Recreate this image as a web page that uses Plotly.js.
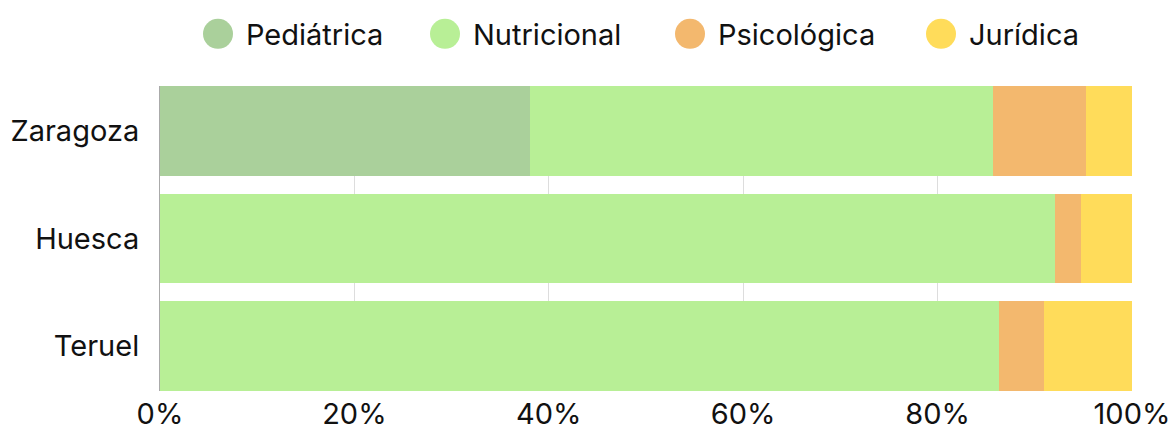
<!DOCTYPE html>
<html>
<head>
<meta charset="utf-8">
<script src="https://cdn.plot.ly/plotly-3.0.1.min.js"></script>
<style>
  html, body { margin: 0; padding: 0; background: #fff; }
  #chart { width: 1170px; height: 430px; }
</style>
</head>
<body>
<div id="chart"></div>
<script>
// Categories (top to bottom)
const provincias = ["Zaragoza", "Huesca", "Teruel"];
// Series (counts, normalised to percent by the chart)
const pediatrica  = [8, 0, 0];
const nutricional = [10, 35, 19];
const psicologica = [2, 1, 1];
const juridica    = [1, 2, 2];
const seriesNames = ["Pediátrica", "Nutricional", "Psicológica", "Jurídica"];
const seriesColors = ["#aad09b", "#b8ef96", "#f3b86e", "#ffdc5a"];
const xTicks = [0, 20, 40, 60, 80, 100];

const W = 1170, H = 430;
const FONT = "Inter, 'Noto Sans', sans-serif";
const legendIds = ["legend", "legend2", "legend3", "legend4"];
// left edge (px) of each legend entry box
const legendLeft = [202, 429, 674, 925];

const seriesValues = [pediatrica, nutricional, psicologica, juridica];
const traces = seriesValues.map((vals, i) => ({
  type: "bar",
  orientation: "h",
  name: seriesNames[i],
  legend: legendIds[i],
  y: provincias,
  x: vals,
  marker: { color: seriesColors[i], line: { width: 0 } },
  hoverinfo: "name+x"
}));

const layout = {
  width: W,
  height: H,
  margin: { l: 160, r: 38, t: 86, b: 39 },
  paper_bgcolor: "#fff",
  plot_bgcolor: "#fff",
  font: { family: FONT, size: 29, color: "#111" },
  barmode: "stack",
  barnorm: "percent",
  bargap: 0.163,
  showlegend: true,
  xaxis: {
    range: [0, 100],
    tickvals: xTicks,
    ticktext: xTicks.map(v => v + "%"),
    ticklabeloverflow: "allow",
    showgrid: true,
    gridcolor: "#dddddd",
    gridwidth: 1,
    zeroline: false,
    showline: false,
    ticks: "",
    ticklabelstandoff: 3,
    fixedrange: true
  },
  yaxis: {
    type: "category",
    categoryorder: "array",
    categoryarray: provincias,
    range: [2.4186, -0.4186],
    showgrid: false,
    zeroline: false,
    showline: true,
    linecolor: "#aaaaaa",
    linewidth: 1,
    ticks: "",
    ticklabelstandoff: 14,
    fixedrange: true
  }
};
legendIds.forEach((id, i) => {
  layout[id] = {
    orientation: "h",
    xref: "container", yref: "container",
    x: legendLeft[i] / W, xanchor: "left",
    y: 1 - 34 / H, yanchor: "middle",
    itemwidth: 34,
    borderwidth: 0,
    bgcolor: "rgba(0,0,0,0)",
    font: { family: FONT, size: 29, color: "#111" }
  };
});

// Round legend symbols (radius 15), centre 28px left of the label start
function roundLegendSymbols(gd) {
  const r = 15, gapToText = 28;
  gd.querySelectorAll("g.traces").forEach(item => {
    try {
      const text = item.querySelector("text");
      if (!text) return;
      const tx = text.getScreenCTM().e + parseFloat(text.getAttribute("x") || 44);
      item.querySelectorAll(".legendpoints path").forEach(p => {
        const ctm = p.getScreenCTM();
        const cx = ctm ? tx - gapToText - ctm.e : -6;
        p.setAttribute("d", `M${cx + r},0A${r},${r} 0 1,1 ${cx - r},0A${r},${r} 0 1,1 ${cx + r},0Z`);
        p.style.strokeWidth = "0";
      });
    } catch (e) { /* keep default symbol */ }
  });
}

Plotly.newPlot("chart", traces, layout, { displayModeBar: false, staticPlot: true }).then(gd => {
  roundLegendSymbols(gd);
  gd.on("plotly_afterplot", () => roundLegendSymbols(gd));
});
</script>
</body>
</html>
